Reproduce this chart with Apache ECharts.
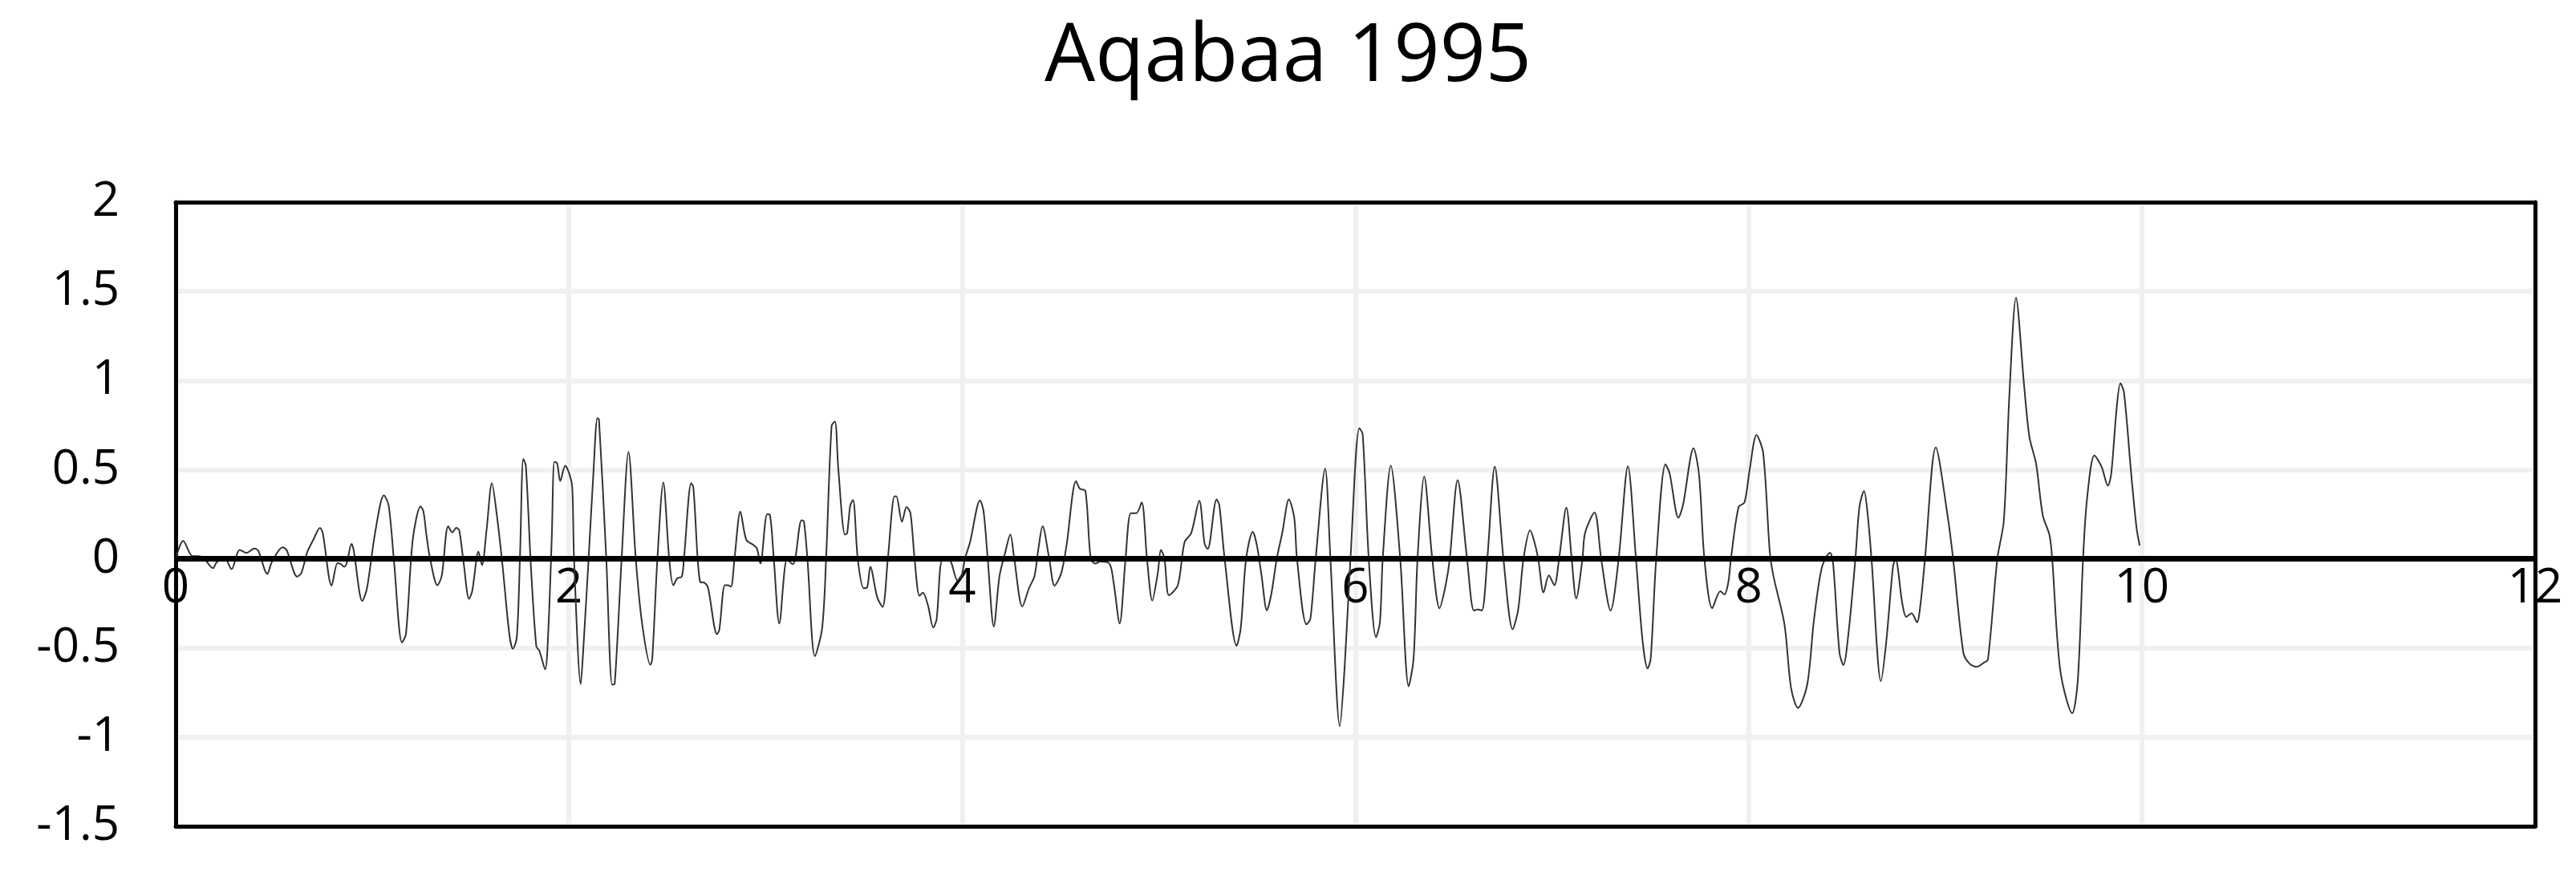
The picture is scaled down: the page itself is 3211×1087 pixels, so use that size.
<!DOCTYPE html>
<html>
<head>
<meta charset="utf-8">
<script src="https://cdn.jsdelivr.net/npm/echarts@6/dist/echarts.min.js"></script>
<style>
html,body{margin:0;padding:0;background:#fff;}
#chart{width:3211px;height:1087px;}
</style>
</head>
<body>
<div id="chart"></div>
<script>
// 时间 (s) 和 加速度，从图上读取的峰谷点
var time = [0,.038,.086,.113,.14,.19,.209,.25,.284,.325,.359,.40,.42,.466,.489,.544,.564,.618,.639,.67,.70,.734,.748,.793,.823,.84,.857,.871,.894,.905,.949,.973,1.014,1.059,1.083,1.11,1.151,1.171,1.206,1.246,1.26,1.276,1.294,1.331,1.353,1.386,1.407,1.427,1.442,1.465,1.492,1.508,1.54,1.558,1.581,1.608,1.635,1.663,1.697,1.715,1.735,1.751,1.768,1.781,1.806,1.834,1.85,1.879,1.895,1.913,1.926,1.94,1.956,1.981,2.004,2.017,
2.026,2.06,2.074,2.10,2.124,2.145,2.153,2.19,2.22,2.233,2.268,2.303,2.34,2.373,2.415,2.424,2.45,2.48,2.51,2.531,2.551,2.574,2.585,2.622,2.633,2.667,2.69,2.708,2.753,2.765,2.793,2.808,2.824,2.842,2.872,2.902,2.94,2.956,2.974,3.008,3.022,3.042,3.07,3.11,3.138,3.151,3.183,3.195,3.213,3.251,3.288,3.308,3.336,3.353,3.37,3.404,3.415,3.431,3.445,3.469,3.499,3.517,3.533,3.568,3.595,3.622,3.656,3.665,3.694,3.717,3.737,3.758,3.783,3.80,3.826,3.853,3.87,3.899,3.935,3.976,3.997,
4.014,4.04,4.091,4.109,4.13,4.161,4.19,4.22,4.245,4.265,4.306,4.34,4.368,4.388,4.409,4.443,4.47,4.504,4.531,4.579,4.599,4.627,4.654,4.678,4.702,4.749,4.77,4.801,4.831,4.858,4.886,4.913,4.94,4.967,4.995,5.011,5.029,5.052,5.097,5.131,5.165,5.206,5.233,5.249,5.294,5.308,5.335,5.396,5.417,5.444,5.478,5.499,5.523,5.55,5.572,5.6,5.628,5.662,5.689,5.703,5.751,5.771,5.798,5.846,5.873,5.921,5.946,5.975,6.02,6.037,
6.068,6.105,6.125,6.139,6.18,6.228,6.271,6.296,6.316,6.35,6.391,6.428,6.459,6.48,6.52,6.568,6.603,6.623,6.643,6.671,6.709,6.753,6.80,6.828,6.855,6.889,6.909,6.93,6.957,6.984,7.012,7.036,7.073,7.1,7.123,7.155,7.168,7.216,7.25,7.298,7.339,7.386,7.427,7.461,7.486,7.502,7.53,7.577,7.598,7.643,7.666,7.72,7.748,7.775,7.815,7.856,7.877,7.897,7.91,7.949,7.979,8.006,8.04,
8.074,8.108,8.128,8.182,8.216,8.251,8.298,8.332,8.373,8.414,8.43,8.462,8.482,8.509,8.543,8.564,8.587,8.605,8.625,8.673,8.70,8.734,8.747,8.781,8.802,8.829,8.856,8.877,8.897,8.952,9.013,9.04,9.092,9.122,9.16,9.197,9.217,9.265,9.298,9.326,9.36,9.401,9.428,9.462,9.496,9.53,9.544,9.585,9.646,9.674,9.701,9.721,9.759,9.796,9.827,9.844,9.871,9.891,9.909,9.946,9.973,9.989];
var accel = [0,.10,.015,.015,.007,-.053,-.019,0,-.058,.05,.033,.058,.045,-.084,-.019,.064,.05,-.10,-.08,.04,.107,.174,.144,-.151,-.024,-.03,-.045,-.02,.084,.05,-.237,-.165,.144,.356,.30,-.01,-.469,-.423,.11,.294,.265,.127,0,-.148,-.096,.182,.148,.174,.16,-.027,-.225,-.182,.04,-.036,.16,.424,.23,-.045,-.423,-.505,-.44,.007,.56,.52,-.03,-.49,-.517,-.62,-.405,.127,.543,.536,.436,.522,.47,.40,
0,-.703,-.49,0,.47,.789,.78,0,-.706,-.70,0,.60,0,-.37,-.595,-.56,0,.428,0,-.148,-.11,-.10,0,.424,.40,-.13,-.134,-.165,-.423,-.397,-.148,-.148,-.156,0,.265,.107,.076,.058,-.027,.25,.247,0,-.363,0,-.03,0,.216,.21,0,-.546,-.388,0,.746,.77,.505,.136,.144,.30,.33,0,-.165,-.16,-.045,-.216,-.27,0,.35,.35,.208,.29,.256,0,-.208,-.19,-.26,-.385,-.34,-.01,-.01,-.122,-.096,
0,.093,.328,.265,0,-.38,-.096,.04,.136,0,-.268,-.165,-.096,.058,.182,0,-.151,-.08,.076,.436,.393,.38,0,-.027,-.015,-.027,-.13,-.363,0,.256,.256,.316,0,-.234,-.08,.05,0,-.204,-.148,.093,.144,.325,.084,.055,.333,.30,0,-.488,-.388,0,.151,.076,-.096,-.289,-.2,0,.144,.333,.23,0,-.368,-.337,0,.505,0,-.938,-.595,0,.732,.70,
0,-.44,-.354,0,.522,0,-.715,-.56,0,.462,0,-.277,-.148,0,.441,0,-.29,-.284,-.29,0,.517,0,-.395,-.285,0,.16,.10,0,-.189,-.093,-.148,0,.287,0,-.223,0,.144,.26,0,-.29,0,.519,0,-.464,-.615,-.56,0,.53,.48,.23,.30,.62,.47,0,-.277,-.182,-.2,-.13,0,.29,.316,.505,.694,
.594,.034,-.106,-.366,-.726,-.836,-.706,-.346,-.046,.034,-.03,-.526,-.596,-.406,0,.294,.38,.254,0,-.686,-.466,-.046,0,-.246,-.326,-.306,-.356,-.226,0,.624,.234,0,-.526,-.586,-.606,-.582,-.566,0,.214,.914,1.464,.974,.684,.534,.244,.134,0,-.626,-.866,-.686,0,.334,.58,.514,.41,.474,.834,.984,.934,.474,.174,.074];

var points = time.map(function (t, i) { return [t, accel[i]]; });

var chart = echarts.init(document.getElementById('chart'));
var font = '"Open Sans", "Liberation Sans", sans-serif';
var border = { show: true, lineStyle: { color: '#000', width: 5 } };
chart.setOption({
    animation: false,
    title: {
        text: 'Aqabaa 1995',
        left: 'center',
        top: 18,
        textStyle: { fontFamily: font, fontSize: 100, fontWeight: 'normal', color: '#000' }
    },
    grid: { left: 219, right: 51, top: 252, bottom: 57 },
    xAxis: [{
        type: 'value', min: 0, max: 12, interval: 2, position: 'bottom',
        axisLine: { show: true, onZero: false, lineStyle: { color: '#000', width: 5 } },
        axisTick: { show: false },
        // 标签放在零线下方
        axisLabel: { fontFamily: font, fontSize: 60, color: '#000', margin: -326, verticalAlign: 'top' },
        splitLine: { show: true, lineStyle: { color: '#f0f0f0', width: 6 } }
    }, {
        type: 'value', min: 0, max: 12, position: 'top',
        axisLine: { show: true, onZero: false, lineStyle: { color: '#000', width: 5 } },
        axisTick: { show: false }, axisLabel: { show: false }, splitLine: { show: false }
    }],
    yAxis: [{
        type: 'value', min: -1.5, max: 2, interval: 0.5, position: 'left',
        axisLine: { show: true, onZero: false, lineStyle: { color: '#000', width: 5 } },
        axisTick: { show: false },
        axisLabel: { fontFamily: font, fontSize: 60, color: '#000', margin: 70 },
        splitLine: { show: true, lineStyle: { color: '#f0f0f0', width: 6 } }
    }, {
        type: 'value', min: -1.5, max: 2, position: 'right',
        axisLine: { show: true, onZero: false, lineStyle: { color: '#000', width: 5 } },
        axisTick: { show: false }, axisLabel: { show: false }, splitLine: { show: false }
    }],
    series: [{
        type: 'line',
        data: points,
        showSymbol: false,
        smooth: 0.3,
        lineStyle: { color: '#333', width: 2 },
        markLine: {
            silent: true, symbol: 'none', label: { show: false },
            lineStyle: { color: '#000', width: 7, type: 'solid' },
            data: [{ yAxis: 0 }]
        }
    }]
});
</script>
</body>
</html>
